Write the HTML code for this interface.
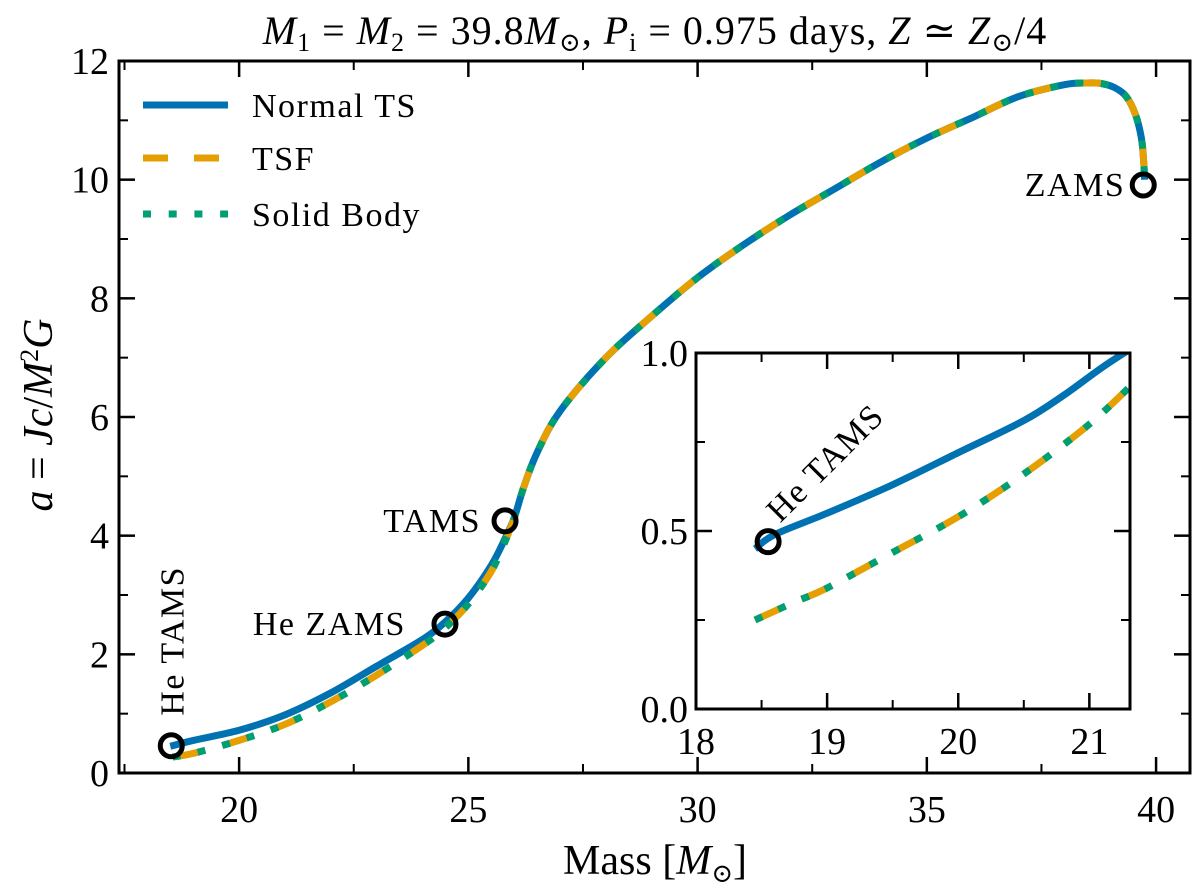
<!DOCTYPE html>
<html><head><meta charset="utf-8"><style>
body{margin:0;background:#fff}
svg text{font-family:"Liberation Serif","DejaVu Serif",serif;fill:#000}
</style></head><body>
<svg id="chart" width="1200" height="891" viewBox="0 0 1200 891" xmlns="http://www.w3.org/2000/svg">
<text x="655" y="44" font-size="40" letter-spacing="1" text-anchor="middle"><tspan font-style="italic">M</tspan><tspan font-size="26" dy="7">1</tspan><tspan dy="-7"> = </tspan><tspan font-style="italic">M</tspan><tspan font-size="26" dy="7">2</tspan><tspan dy="-7"> = 39.8</tspan><tspan font-style="italic">M</tspan><tspan font-size="26" dy="7">⊙</tspan><tspan dy="-7">, </tspan><tspan font-style="italic">P</tspan><tspan font-size="26" dy="7">i</tspan><tspan dy="-7"> = 0.975 days, </tspan><tspan font-style="italic">Z</tspan><tspan> ≃ </tspan><tspan font-style="italic">Z</tspan><tspan font-size="26" dy="7">⊙</tspan><tspan dy="-7">/4</tspan></text>
<text transform="translate(52,415) rotate(-90)" font-size="42" text-anchor="middle"><tspan font-style="italic">a</tspan> = <tspan font-style="italic">Jc</tspan>/<tspan font-style="italic">M</tspan><tspan font-size="26" dy="-14">2</tspan><tspan dy="14" font-style="italic">G</tspan></text>
<text x="655" y="874" font-size="42" text-anchor="middle">Mass [<tspan font-style="italic">M</tspan><tspan font-size="26" dy="8">⊙</tspan><tspan dy="-8">]</tspan></text>
<g id="main"></g>
<g id="inset"></g>
<g id="legend"></g>
</svg>
<script>
const mainMass=[18.5,19,20,21,22,23,24,24.5,25,25.5,25.8,26,26.2,26.5,27,28,29,30,31,32,33,34,35,36,37,38,38.5,38.8,39.1,39.35,39.55,39.68,39.73,39.75];
const mainNormal=[0.45,0.55,0.72,0.98,1.35,1.8,2.25,2.55,2.95,3.5,3.95,4.3,4.8,5.4,6.1,7.0,7.7,8.35,8.9,9.4,9.85,10.3,10.7,11.05,11.4,11.6,11.63,11.62,11.55,11.4,11.1,10.7,10.3,10.0];
const mainLowerMass=[18.55,19,20,21,22,23,24,24.5,25,25.5,25.8,26,26.2,26.5,27,28,29,30,31,32,33,34,35,36,37,38,38.5,38.8,39.1,39.35,39.55,39.68,39.73,39.75];
const mainLower=[0.27,0.33,0.55,0.82,1.2,1.65,2.15,2.45,2.85,3.4,3.9,4.3,4.8,5.4,6.1,7.0,7.7,8.35,8.9,9.4,9.85,10.3,10.7,11.05,11.4,11.6,11.63,11.62,11.55,11.4,11.1,10.7,10.3,10.0];
const insetMass=[18.45,18.6,19,19.5,20,20.5,20.8,21.1,21.35];
const insetNormal=[0.45,0.49,0.55,0.63,0.72,0.81,0.88,0.96,1.02];
const insetLowerMass=[18.45,18.75,19,19.5,20,20.5,21,21.35];
const insetLower=[0.25,0.3,0.34,0.44,0.54,0.66,0.8,0.92];
const xTicks=[20,25,30,35,40];
const yTicks=[0,2,4,6,8,10,12];
const insetXTicks=[18,19,20,21];
const insetYTicks=["0.0","0.5","1.0"];
const markerMass=[18.52,24.49,25.8,39.72];
const markerA=[0.46,2.51,4.25,9.91];
const markerLabels=["He TAMS","He ZAMS","TAMS","ZAMS"];

const NS="http://www.w3.org/2000/svg";
function el(tag,attrs,parent,text){const e=document.createElementNS(NS,tag);for(const k in attrs)e.setAttribute(k,attrs[k]);if(text!==undefined)e.textContent=text;parent.appendChild(e);return e;}
const M={l:119,r:1190,t:61,b:773,x0:17.38,x1:40.74,y0:0,y1:12};
const mx=v=>M.l+(v-M.x0)/(M.x1-M.x0)*(M.r-M.l);
const my=v=>M.b-(v-M.y0)/(M.y1-M.y0)*(M.b-M.t);
const I={l:696,r:1130,t:353,b:709,x0:18,x1:21.31,y0:0,y1:1};
const ix=v=>I.l+(v-I.x0)/(I.x1-I.x0)*(I.r-I.l);
const iy=v=>I.b-(v-I.y0)/(I.y1-I.y0)*(I.b-I.t);
function pathD(xs,ys,fx,fy){
  const P=xs.map((x,i)=>[fx(x),fy(ys[i])]);
  let d='M'+P[0][0].toFixed(1)+','+P[0][1].toFixed(1);
  for(let i=0;i<P.length-1;i++){
    const p0=P[Math.max(i-1,0)],p1=P[i],p2=P[i+1],p3=P[Math.min(i+2,P.length-1)];
    const c1=[p1[0]+(p2[0]-p0[0])/6,p1[1]+(p2[1]-p0[1])/6];
    const c2=[p2[0]-(p3[0]-p1[0])/6,p2[1]-(p3[1]-p1[1])/6];
    d+=` C${c1[0].toFixed(1)},${c1[1].toFixed(1)} ${c2[0].toFixed(1)},${c2[1].toFixed(1)} ${p2[0].toFixed(1)},${p2[1].toFixed(1)}`;
  }
  return d;
}
const COL={blue:"#0072b2",orange:"#e69f00",green:"#009e73"};

function drawSeries(g,xsN,ysN,xsL,ysL,fx,fy,clip){
  const a={fill:"none","stroke-width":7};
  if(clip)a["clip-path"]=clip;
  let p=el('path',Object.assign({d:pathD(xsN,ysN,fx,fy),stroke:COL.blue},a),g);
  
  p=el('path',Object.assign({d:pathD(xsL,ysL,fx,fy),stroke:COL.orange,"stroke-dasharray":"26 25"},a),g);
  
  p=el('path',Object.assign({d:pathD(xsL,ysL,fx,fy),stroke:COL.green,"stroke-dasharray":"8 17.5"},a),g);
  
}

const gm=document.getElementById('main');
drawSeries(gm,mainMass,mainNormal,mainLowerMass,mainLower,mx,my);
let fr=el('rect',{x:M.l,y:M.t,width:M.r-M.l,height:M.b-M.t,fill:"none",stroke:"#000","stroke-width":3},gm);

xTicks.forEach(v=>{const x=mx(v);
  el('line',{x1:x,x2:x,y1:M.b,y2:M.b-16,stroke:"#000","stroke-width":2.5},gm);
  el('line',{x1:x,x2:x,y1:M.t,y2:M.t+16,stroke:"#000","stroke-width":2.5},gm);
  const t=el('text',{x:x,y:M.b+49,"font-size":38,"text-anchor":"middle"},gm,String(v));
  
});
for(let v=17.5;v<41;v+=2.5){if(v%5===0)continue;const x=mx(v);
  el('line',{x1:x,x2:x,y1:M.b,y2:M.b-9,stroke:"#000","stroke-width":2},gm);
  el('line',{x1:x,x2:x,y1:M.t,y2:M.t+9,stroke:"#000","stroke-width":2},gm);}
yTicks.forEach(v=>{const y=my(v);
  el('line',{x1:M.l,x2:M.l+16,y1:y,y2:y,stroke:"#000","stroke-width":2.5},gm);
  el('line',{x1:M.r,x2:M.r-16,y1:y,y2:y,stroke:"#000","stroke-width":2.5},gm);
  const t=el('text',{x:M.l-10,y:y+13,"font-size":38,"text-anchor":"end"},gm,String(v));
  
});
for(let v=1;v<12;v+=2){const y=my(v);
  el('line',{x1:M.l,x2:M.l+9,y1:y,y2:y,stroke:"#000","stroke-width":2},gm);
  el('line',{x1:M.r,x2:M.r-9,y1:y,y2:y,stroke:"#000","stroke-width":2},gm);}
markerMass.forEach((m,i)=>{
  const c=el('circle',{cx:mx(m),cy:my(markerA[i]),r:11,fill:"none",stroke:"#000","stroke-width":5},gm);
  
});
function lab(txt,x,y,anchor,rot,name){const t=el('text',{x:x,y:y,"font-size":34,"letter-spacing":1.5,"text-anchor":anchor},gm,txt);
  if(rot)t.setAttribute('transform',`rotate(${rot} ${x} ${y})`);
  }
lab("ZAMS",mx(markerMass[3])-18,my(markerA[3])+11,"end",0,'zams-label');
lab("TAMS",mx(markerMass[2])-24,my(markerA[2])+11,"end",0,'tams-label');
lab("He ZAMS",mx(markerMass[1])-39,my(markerA[1])+11,"end",0,'he-zams-label');
lab("He TAMS",mx(markerMass[0])+12,my(markerA[0])-30,"start",-90,'he-tams-label');

const gi=document.getElementById('inset');
el('rect',{x:I.l,y:I.t,width:I.r-I.l,height:I.b-I.t,fill:"#fff"},gi);
const cp=el('clipPath',{id:'ic'},gi);el('rect',{x:I.l,y:I.t,width:I.r-I.l,height:I.b-I.t},cp);
drawSeries(gi,insetMass,insetNormal,insetLowerMass,insetLower,ix,iy,'url(#ic)');
fr=el('rect',{x:I.l,y:I.t,width:I.r-I.l,height:I.b-I.t,fill:"none",stroke:"#000","stroke-width":3},gi);

insetXTicks.forEach(v=>{const x=ix(v);
  el('line',{x1:x,x2:x,y1:I.b,y2:I.b-16,stroke:"#000","stroke-width":2.5},gi);
  el('line',{x1:x,x2:x,y1:I.t,y2:I.t+16,stroke:"#000","stroke-width":2.5},gi);
  const t=el('text',{x:x,y:I.b+45,"font-size":38,"text-anchor":"middle"},gi,String(v));
  
});
for(let v=18.5;v<21.3;v+=1){const x=ix(v);
  el('line',{x1:x,x2:x,y1:I.b,y2:I.b-9,stroke:"#000","stroke-width":2},gi);
  el('line',{x1:x,x2:x,y1:I.t,y2:I.t+9,stroke:"#000","stroke-width":2},gi);}
insetYTicks.forEach(s=>{const y=iy(parseFloat(s));
  el('line',{x1:I.l,x2:I.l+16,y1:y,y2:y,stroke:"#000","stroke-width":2.5},gi);
  el('line',{x1:I.r,x2:I.r-16,y1:y,y2:y,stroke:"#000","stroke-width":2.5},gi);
  const t=el('text',{x:I.l-8,y:y+13,"font-size":38,"text-anchor":"end"},gi,s);
  
});
[0.25,0.75].forEach(v=>{const y=iy(v);
  el('line',{x1:I.l,x2:I.l+9,y1:y,y2:y,stroke:"#000","stroke-width":2},gi);
  el('line',{x1:I.r,x2:I.r-9,y1:y,y2:y,stroke:"#000","stroke-width":2},gi);});
let c=el('circle',{cx:ix(18.55),cy:iy(0.47),r:11,fill:"none",stroke:"#000","stroke-width":5},gi);

let t=el('text',{x:ix(18.55)+12,y:iy(0.47)-18,"font-size":34,"letter-spacing":1.5,transform:`rotate(-45 ${ix(18.55)+12} ${iy(0.47)-18})`},gi,"He TAMS");


const gl=document.getElementById('legend');
const legNames=["Normal TS","TSF","Solid Body"];
const legY=[105,158,214];
legNames.forEach((n,i)=>{
  const y=legY[i];
  if(i===0)el('line',{x1:143,x2:228,y1:y,y2:y,stroke:COL.blue,"stroke-width":7},gl);
  if(i===1)el('line',{x1:143,x2:228,y1:y,y2:y,stroke:COL.orange,"stroke-width":7,"stroke-dasharray":"25 26"},gl);
  if(i===2)el('line',{x1:143,x2:228,y1:y,y2:y,stroke:COL.green,"stroke-width":7,"stroke-dasharray":"8 17.7"},gl);
  const tt=el('text',{x:252,y:y+12,"font-size":34,"letter-spacing":1.5},gl,n);
  
});
</script>
</body></html>
